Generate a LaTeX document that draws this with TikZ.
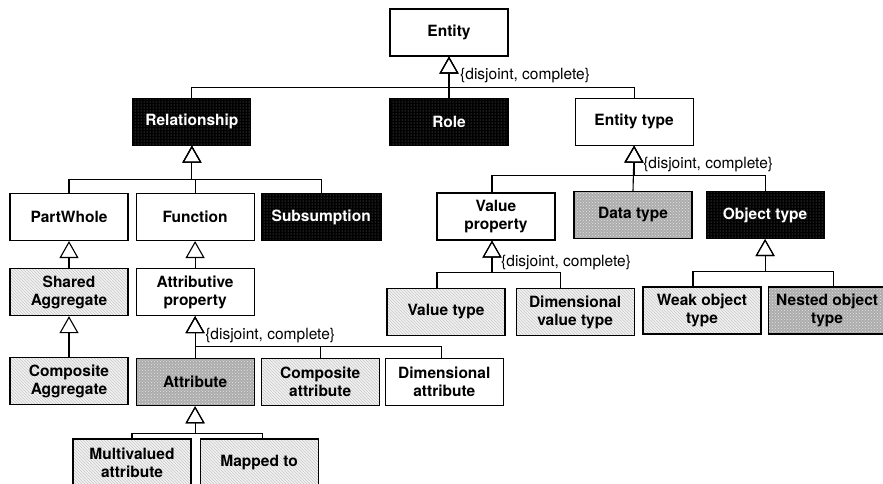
\documentclass[tikz,border=0pt]{standalone}
\usepackage{fontspec}
\setmainfont{TeX Gyre Heros}
\usetikzlibrary{positioning,arrows.meta,calc,patterns}
\definecolor{hatchfill}{RGB}{242,242,242}
\definecolor{hatchline}{RGB}{200,200,200}
\definecolor{dotgray}{RGB}{172,172,172}
\tikzset{
  cls/.style  = {draw, line width=1.1pt, minimum width=118pt, minimum height=47pt, inner sep=2pt,
                 align=center, font=\fontsize{15.5}{18}\selectfont\bfseries},
  wcls/.style = {cls, fill=white},
  bcls/.style = {cls, text=white, preaction={fill=black}, pattern=dots, pattern color=gray},
  gcls/.style = {cls, preaction={fill=dotgray}, pattern=crosshatch dots, pattern color=white!80!gray},
  hcls/.style = {cls, preaction={fill=hatchfill}, pattern=north west lines, pattern color=hatchline},
  gen/.style  = {-{Triangle[open, length=17pt, width=19pt]}, line width=1.1pt},
  note/.style = {anchor=west, inner sep=0pt, font=\fontsize{15.5}{18}\selectfont},
}
\begin{document}
\begin{tikzpicture}[x=1pt, y=-1pt, node distance=6pt and 6pt]
  \useasboundingbox (0,0) rectangle (883,483);
  % top levels
  \node[wcls] (entity) at (449,32.5) {Entity};
  \node[bcls, below=41pt of entity] (role) {Role};
  \node[bcls, left=138pt of role] (relationship) {Relationship};
  \node[wcls, right=66pt of role] (etype) {Entity type};
  % relationship side
  \node[wcls] (partwhole) at (69,217) {PartWhole};
  \node[wcls, right=7pt of partwhole] (function) {Function};
  \node[bcls, right=of function, minimum width=120pt] (subsumption) {Subsumption};
  \node[hcls, below=27pt of partwhole] (shared) {Shared\\Aggregate};
  \node[hcls, below=41pt of shared] (compagg) {Composite\\Aggregate};
  \node[wcls, below=27pt of function] (attrprop) {Attributive\\property};
  \node[gcls, below=42pt of attrprop] (attribute) {Attribute};
  \node[hcls, right=of attribute] (compattr) {Composite\\attribute};
  \node[wcls, right=5pt of compattr] (dimattr) {Dimensional\\attribute};
  \node[hcls] (multival) at (132,462.5) {Multivalued\\attribute};
  \node[hcls, right=8pt of multival] (mappedto) {Mapped to};
  % entity type side
  \node[wcls] (valprop) at (496,216.5) {Value\\property};
  \node[gcls] (datatype) at (633,215) {Data type};
  \node[bcls, right=13pt of datatype] (objtype) {Object type};
  \node[hcls] (valtype) at (446,312) {Value type};
  \node[hcls, right=10pt of valtype] (dimvaltype) {Dimensional\\value type};
  \node[hcls] (weakobj) at (702,310.5) {Weak object\\type};
  \node[gcls, right=of weakobj] (nestedobj) {Nested object\\type};

  % generalisations
  \coordinate (entbar) at ($(entity.south)+(0,31)$);
  \draw[gen] (relationship.north) |- (entbar) -- (entity.south);
  \draw[gen] (role.north) -- (entity.south);
  \draw[gen] (etype.north) |- (entbar) -- (entity.south);
  \node[note] (entnote) at ($(entity.south)+(11,19)$) {\{disjoint, complete\}};

  \coordinate (relbar) at ($(relationship.south)+(0,34)$);
  \draw[gen] (partwhole.north) |- (relbar) -- (relationship.south);
  \draw[gen] (function.north) |- (relbar) -- (relationship.south);
  \draw[gen] (subsumption.north) |- (relbar) -- (relationship.south);

  \draw[gen] (shared.north) -- (partwhole.south);
  \draw[gen] (compagg.north) -- (shared.south);
  \draw[gen] (attrprop.north) -- (function.south);

  \coordinate (apbar) at ($(attrprop.south)+(0,30)$);
  \draw[gen] (attribute.north) -- (attrprop.south);
  \draw[gen] (compattr.north) |- (apbar) -- (attrprop.south);
  \draw[gen] ([xshift=-3pt]dimattr.north) |- (apbar) -- (attrprop.south);
  \node[note] (apnote) at ($(attrprop.south)+(10,19)$) {\{disjoint, complete\}};

  \coordinate (atbar) at ($(attribute.south)+(0,27)$);
  \draw[gen] (multival.north) |- (atbar) -- (attribute.south);
  \draw[gen] ([xshift=3pt]mappedto.north) |- (atbar) -- (attribute.south);

  \coordinate (etbar) at ($(etype.south)+(0,30)$);
  \draw[gen] ([xshift=-4pt]valprop.north) |- (etbar) -- (etype.south);
  \draw[gen] (datatype.north) -- (etype.south);
  \draw[gen] (objtype.north) |- (etbar) -- (etype.south);
  \node[note] (etnote) at ($(etype.south)+(9,19)$) {\{disjoint, complete\}};

  \coordinate (vpbar) at ([xshift=-4pt]$(valprop.south)+(0,32)$);
  \draw[gen] ([xshift=-9pt]valtype.north) |- (vpbar) -- ([xshift=-4pt]valprop.south);
  \draw[gen] ([xshift=-15pt]dimvaltype.north) |- (vpbar) -- ([xshift=-4pt]valprop.south);
  \node[note] (vpnote) at ($(valprop.south)+(5,22)$) {\{disjoint, complete\}};

  \coordinate (otbar) at ($(objtype.south)+(0,32)$);
  \draw[gen] ([xshift=-9pt]weakobj.north) |- (otbar) -- (objtype.south);
  \draw[gen] ([xshift=6pt]nestedobj.north) |- (otbar) -- (objtype.south);
\end{tikzpicture}
\end{document}
